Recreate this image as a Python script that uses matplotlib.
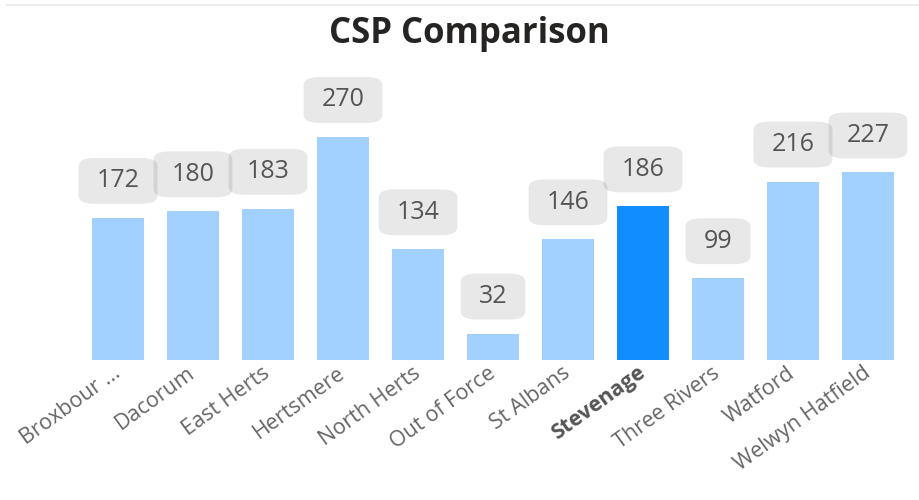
import numpy as np
import matplotlib.pyplot as plt
from matplotlib.lines import Line2D

areas = ['Broxbour ...', 'Dacorum', 'East Herts', 'Hertsmere', 'North Herts',
         'Out of Force', 'St Albans', 'Stevenage', 'Three Rivers', 'Watford',
         'Welwyn Hatfield']
counts = [172, 180, 183, 270, 134, 32, 146, 186, 99, 216, 227]
highlight = 'Stevenage'

plt.rcParams['font.family'] = ['Open Sans', 'DejaVu Sans']

fig = plt.figure(figsize=(9.2, 5.0), dpi=100)
# axes placed in pixel terms: baseline at y=360, 75px per category
ax = fig.add_axes([80.5 / 920, 140 / 500, 825 / 920, 300 / 500])

colors = ['#118dff' if a == highlight else '#a3d1ff' for a in areas]
x = np.arange(len(areas))
ax.bar(x, counts, width=0.7, color=colors)
ax.set_xlim(-0.5, len(areas) - 0.5)
ax.set_ylim(0, 300 / 0.826)

# value labels in translucent rounded boxes (overlaps get darker)
for xi, v in zip(x, counts):
    t = ax.annotate('%d' % v, (xi, v), xytext=(0, 37), textcoords='offset pixels',
                    ha='center', va='center', fontsize=18, color='#555555',
                    bbox=dict(boxstyle='round,pad=0.72,rounding_size=0.6',
                              fc=(0, 0, 0, 0.09), ec='none'),
                    annotation_clip=False)
    t.get_bbox_patch().set_mutation_aspect(0.58)

ax.set_xticks(x)
ax.set_xticklabels(areas, rotation=36, ha='right', va='center',
                   rotation_mode='anchor', fontsize=15.5, color='#666666')
for lbl in ax.get_xticklabels():
    if lbl.get_text() == highlight:
        lbl.set_fontweight('bold')
        lbl.set_color('#555555')
ax.tick_params(axis='x', length=0, pad=8)
ax.set_yticks([])
for s in ax.spines.values():
    s.set_visible(False)

fig.text(0.51, 0.932, 'CSP Comparison', ha='center', va='center',
         fontsize=25, fontweight='bold', color='#252423')
fig.add_artist(Line2D([7 / 920, 1], [0.99, 0.99], color='#ececec', lw=1.5))

fig.savefig('out.png', dpi=100)
